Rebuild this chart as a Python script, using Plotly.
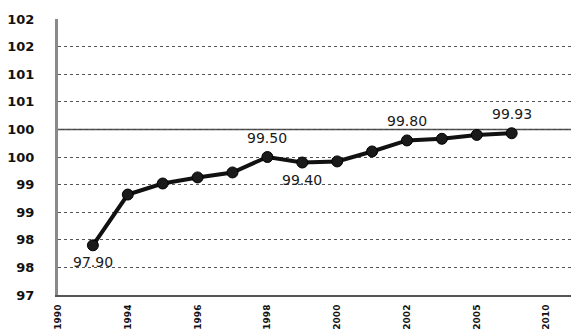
import plotly.graph_objects as go

# Category slots along the x axis (0..14); data occupies slots 1..13
slots = list(range(1, 14))
values = [97.90, 98.82, 99.02, 99.13, 99.22, 99.50, 99.40, 99.42, 99.60, 99.80, 99.83, 99.90, 99.93]

# Points that carry a value label, and whether the label sits above or below
labelled = {1: "below", 6: "above", 7: "below", 10: "above", 13: "above"}

x_tick_vals = [0, 2, 4, 6, 8, 10, 12, 14]
x_tick_text = ["1990", "1994", "1996", "1998", "2000", "2002", "2005", "2010"]

y_tick_vals = [97.0, 97.5, 98.0, 98.5, 99.0, 99.5, 100.0, 100.5, 101.0, 101.5, 102.0]
y_tick_text = ["97", "98", "98", "99", "99", "100", "100", "101", "101", "102", "102"]

fig = go.Figure()
fig.add_trace(go.Scatter(
    x=slots, y=values, mode="lines+markers",
    line=dict(color="#111111", width=4),
    marker=dict(color="#1a1a1a", size=11, line=dict(color="#000000", width=1)),
    hoverinfo="skip", showlegend=False,
))

annotations = []
for x, y in zip(slots, values):
    if x in labelled:
        annotations.append(dict(
            x=x, y=y, xref="x", yref="y", text=f"{y:.2f}", showarrow=False,
            yshift=19 if labelled[x] == "above" else -17,
            font=dict(family="DejaVu Sans", size=14, color="#1a1a1a"),
        ))

fig.update_layout(
    width=573, height=333,
    margin=dict(l=58, r=2, t=19, b=38),
    paper_bgcolor="white", plot_bgcolor="white",
    annotations=annotations,
    shapes=[dict(type="line", xref="paper", x0=0, x1=1, yref="y", y0=100, y1=100,
                 line=dict(color="#444444", width=1.5), layer="below")],
)
fig.update_xaxes(
    range=[0, 14.7], tickvals=x_tick_vals, ticktext=x_tick_text, tickangle=-90,
    showgrid=False, zeroline=False, automargin=False,
    showline=True, linecolor="#555555", linewidth=2,
    ticks="", ticklabelstandoff=4,
    tickfont=dict(family="DejaVu Sans", size=9, color="#111111", weight="bold"),
)
fig.update_yaxes(
    range=[97, 102], tickvals=y_tick_vals, ticktext=y_tick_text,
    showgrid=True, gridcolor="#555555", griddash="dot", gridwidth=1,
    zeroline=False, automargin=False,
    showline=True, linecolor="#8a8a8a", linewidth=3,
    ticks="", ticklabelstandoff=18,
    tickfont=dict(family="DejaVu Sans", size=13, color="#111111", weight="bold"),
)

fig.write_html("out.html")
